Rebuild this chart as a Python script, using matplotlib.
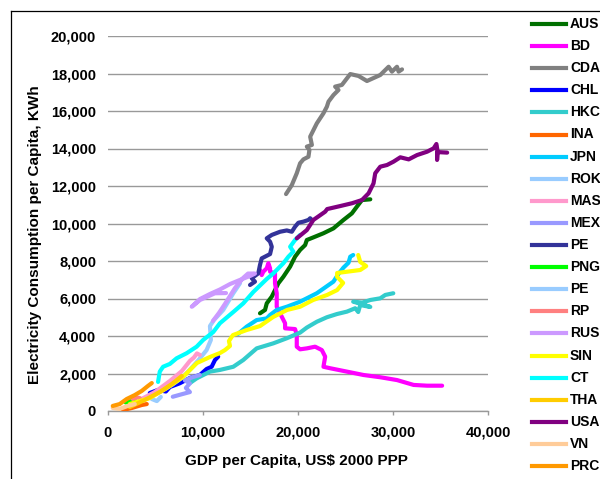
import matplotlib
matplotlib.use("Agg")
import matplotlib.pyplot as plt
from matplotlib.lines import Line2D
from matplotlib.ticker import FuncFormatter

plt.rcParams['font.family'] = ['Liberation Sans', 'DejaVu Sans']

# ---------------- data (GDP per capita, electricity per capita) ----------------
names = ["AUS", "BD", "CDA", "CHL", "HKC", "INA", "JPN", "ROK", "MAS", "MEX", "PE",
         "PNG", "PE", "RP", "RUS", "SIN", "CT", "THA", "USA", "VN", "PRC"]
colors = ["#007000", "#FF00FF", "#808080", "#0000FF", "#33CCCC", "#FF6600", "#00CCFF",
          "#99CCFF", "#FF99CC", "#9999FF", "#333399", "#00FF00", "#99CCFF", "#FF8080",
          "#CC99FF", "#FFFF00", "#00FFFF", "#FFCC00", "#800080", "#FFCC99", "#FF9900"]

aus_x = [16000, 16530, 16710, 17240, 17580, 17930, 18460, 19170, 19690, 20220, 20750, 20930,
         21620, 22680, 23730, 24790, 25670, 26200, 26730, 27610]
aus_y = [5210, 5390, 5740, 6100, 6450, 6810, 7160, 7700, 8230, 8590, 8850, 9120,
         9260, 9480, 9740, 10190, 10540, 10900, 11250, 11290]

bd_x = [16000, 16180, 16350, 16710, 16880, 17060, 17060, 17580, 17580, 17760, 17760, 18110,
        18640, 18640, 19690, 19870, 19870, 20220, 20930, 21800, 22510, 22860, 22680, 23390,
        25150, 26900, 28660, 30420, 32170, 33590, 35170]
bd_y = [7520, 7250, 7430, 7610, 7880, 7610, 7430, 7340, 6810, 6280, 5560, 5210,
        4680, 4410, 4370, 4050, 3430, 3290, 3340, 3430, 3250, 2900, 2360, 2280,
        2100, 1920, 1800, 1650, 1390, 1350, 1350]

cda_x = [18740, 19350, 19870, 20220, 20570, 21100, 21200, 20930, 21460, 21280, 21980, 22680,
         23040, 23210, 23730, 24260, 23910, 24620, 25150, 25500, 26370, 27260, 28660, 29540,
         29890, 30420, 30590, 30950]
cda_y = [11570, 12050, 12680, 13210, 13420, 13560, 13920, 14100, 14190, 14630, 15340, 15880,
         16230, 16500, 16850, 17120, 17300, 17390, 17740, 17970, 17870, 17600, 17920, 18360,
         18100, 18360, 18100, 18220]

chl_x = [4400, 5240, 6090, 6510, 7560, 8620, 9670, 10380, 10910, 11260, 11600]
chl_y = [960, 1120, 1040, 1280, 1480, 1760, 1920, 2240, 2360, 2720, 2900]

hkc_x = [8620, 9330, 10730, 11780, 13190, 14240, 15650, 17410, 18820, 20220, 20930, 21980,
         23040, 24090, 25150, 26020, 26340, 26550, 27610, 26760, 25810, 26760, 27610, 28660,
         29190, 30030]
hkc_y = [1490, 1740, 2100, 2190, 2360, 2720, 3340, 3610, 3880, 4180, 4450, 4760,
         5000, 5170, 5300, 5480, 5280, 5650, 5550, 5700, 5830, 5780, 5920, 6010,
         6190, 6280]

ina_x = [1550, 2500, 3550, 4080]
ina_y = [50, 160, 320, 370]

jpn_x = [13680, 14600, 15650, 16710, 17060, 17760, 18820, 20220, 21980, 23730, 24260, 24790,
         25320, 25500, 25810]
jpn_y = [4110, 4500, 4850, 4940, 5120, 5390, 5560, 5830, 6280, 6900, 7310, 7650,
         7910, 8230, 8320]

rok_x = [5450, 6720, 7880, 8700, 9500, 10380, 10830, 10730, 11150, 12130, 13190, 13890]
rok_y = [1010, 1390, 1810, 2250, 2700, 3250, 3790, 4530, 4850, 5390, 6280, 6810]

mas_x = [3340, 4930, 6510, 7770, 8620, 9040, 9360, 9670]
mas_y = [590, 1010, 1600, 2130, 2670, 2850, 3070, 2990]

mex_x = [6820, 7880, 8620, 8200, 8620, 8090, 8930, 9670]
mex_y = [760, 910, 1010, 1230, 1470, 1630, 1810, 1920]

pe1_x = [14950, 15470, 15130, 15820, 16000, 16180, 17060, 17240, 17060, 16710, 17240, 18110,
         18820, 19350, 19690, 20040, 20570, 21100, 21280, 21460]
pe1_y = [6720, 6900, 7080, 7340, 7790, 8140, 8370, 8760, 9030, 9210, 9390, 9560,
         9630, 9560, 9830, 10040, 10100, 10190, 10280, 10190]

png_x = [1870, 2290, 2820]
png_y = [450, 510, 560]

pe2_x = [4610, 5140, 5560]
pe2_y = [640, 530, 750]

rp_x = [2610, 3030, 3340]
rp_y = [640, 720, 690]

rus_x = [11040, 11680, 12310, 13370, 14210, 14740, 15470, 14950, 13890, 12840, 11780, 10730,
         9680, 8820, 9680, 11260, 12420]
rus_y = [4800, 5230, 5710, 6560, 7090, 7330, 7330, 7200, 6990, 6770, 6480, 6240,
         5970, 5560, 5920, 6280, 6290]

sin_x = [2290, 4400, 6190, 7880, 9360, 10730, 11780, 12310, 12840, 12730, 13150, 14600,
         16000, 17370, 18850, 20220, 21590, 23070, 24120, 24750, 24120, 24120, 25180, 26550,
         27180, 26550, 26340]
sin_y = [370, 690, 1230, 1810, 2560, 2880, 3090, 3250, 3470, 3730, 4050, 4320,
         4530, 5010, 5390, 5560, 5920, 6190, 6450, 6830, 7150, 7360, 7430, 7520,
         7730, 7950, 8320]

ct_x = [5270, 5450, 5800, 6510, 7220, 8270, 9330, 10020, 11080, 11780, 13190, 14240,
        15300, 16710, 17410, 18460, 18990, 19510, 19170, 19690, 20220]
ct_y = [1550, 2100, 2360, 2510, 2810, 3080, 3430, 3790, 4210, 4680, 5280, 5740,
        6350, 7040, 7340, 7880, 8230, 8500, 8760, 9120, 9390]

tha_x = [2290, 3870, 5450, 6720, 7770]
tha_y = [210, 590, 1010, 1440, 1870]

usa_x = [19870, 20930, 21620, 22860, 23070, 24440, 25680, 26730, 27430, 27950, 28130, 28660,
         29370, 30060, 30770, 31650, 32530, 33590, 34280, 34570, 34670, 34640, 34670, 35700]
usa_y = [9210, 9650, 10190, 10630, 10770, 10930, 11080, 11250, 11610, 12140, 12680, 13030,
         13120, 13300, 13530, 13420, 13650, 13830, 14010, 14240, 13920, 13390, 13810, 13780]

vn_x = [500, 1230, 2080, 2820]
vn_y = [160, 110, 270, 370]

prc_x = [500, 1230, 1970, 2820, 3550, 4190, 4610]
prc_y = [270, 370, 640, 850, 1070, 1330, 1490]

series_x = [aus_x, bd_x, cda_x, chl_x, hkc_x, ina_x, jpn_x, rok_x, mas_x, mex_x, pe1_x,
            png_x, pe2_x, rp_x, rus_x, sin_x, ct_x, tha_x, usa_x, vn_x, prc_x]
series_y = [aus_y, bd_y, cda_y, chl_y, hkc_y, ina_y, jpn_y, rok_y, mas_y, mex_y, pe1_y,
            png_y, pe2_y, rp_y, rus_y, sin_y, ct_y, tha_y, usa_y, vn_y, prc_y]

x_ticks = [0, 10000, 20000, 30000, 40000]
y_ticks = [0, 2000, 4000, 6000, 8000, 10000, 12000, 14000, 16000, 18000, 20000]

# ---------------- figure ----------------
W, H = 600, 479
fig = plt.figure(figsize=(W / 100, H / 100), dpi=100)
fig.patch.set_facecolor("white")
ax = fig.add_axes([108 / W, (H - 411) / H, 380 / W, 375 / H])

for i, (xs, ys) in enumerate(zip(series_x, series_y)):
    ax.plot(xs, ys, color=colors[i], lw=3, solid_capstyle="round",
            solid_joinstyle="round", zorder=3 + i * 0.01)

ax.set_xlim(0, 40000)
ax.set_ylim(0, 20000)
ax.set_xticks(x_ticks)
ax.set_yticks(y_ticks)
fmt = FuncFormatter(lambda v, p: f"{int(v):,}")
ax.xaxis.set_major_formatter(fmt)
ax.yaxis.set_major_formatter(fmt)

for s in ["top", "right", "left"]:
    ax.spines[s].set_visible(False)
ax.spines["bottom"].set_color("#999999")
ax.spines["bottom"].set_linewidth(1.0)
ax.yaxis.grid(True, color="#999999", lw=1.0, zorder=0)
ax.set_axisbelow(True)

ax.tick_params(axis="y", length=0, pad=8.6, labelsize=10.5)
ax.tick_params(axis="x", length=3, width=1.0, color="#999999", direction="out",
               pad=7.5, labelsize=10.5)
for lab in ax.get_xticklabels() + ax.get_yticklabels():
    lab.set_fontweight("bold")

fig.text(296.7 / W, 1 - 465.5 / H, "GDP per Capita, US$ 2000 PPP", ha="center",
         va="baseline", fontsize=11, fontweight="bold")
fig.text(35 / W, 1 - 235 / H, "Electricity Consumption per Capita, KWh", ha="center",
         va="center", rotation=90, fontsize=11, fontweight="bold")

# legend (manual, right side; text runs off the right edge as in the source)
for i, name in enumerate(names):
    yp = 1 - (24 + i * 22.1) / H
    fig.add_artist(Line2D([532 / W, 566 / W], [yp, yp], color=colors[i], lw=3,
                          transform=fig.transFigure))
    fig.text(570 / W, yp, name, ha="left", va="center", fontsize=10, fontweight="bold")

# chart frame border
fig.add_artist(Line2D([11 / W, 11 / W], [0, 1 - 11 / H], color="black", lw=0.9,
                      transform=fig.transFigure))
fig.add_artist(Line2D([11 / W, 1], [1 - 11 / H, 1 - 11 / H], color="black", lw=0.9,
                      transform=fig.transFigure))

fig.savefig("out.png", dpi=100)
